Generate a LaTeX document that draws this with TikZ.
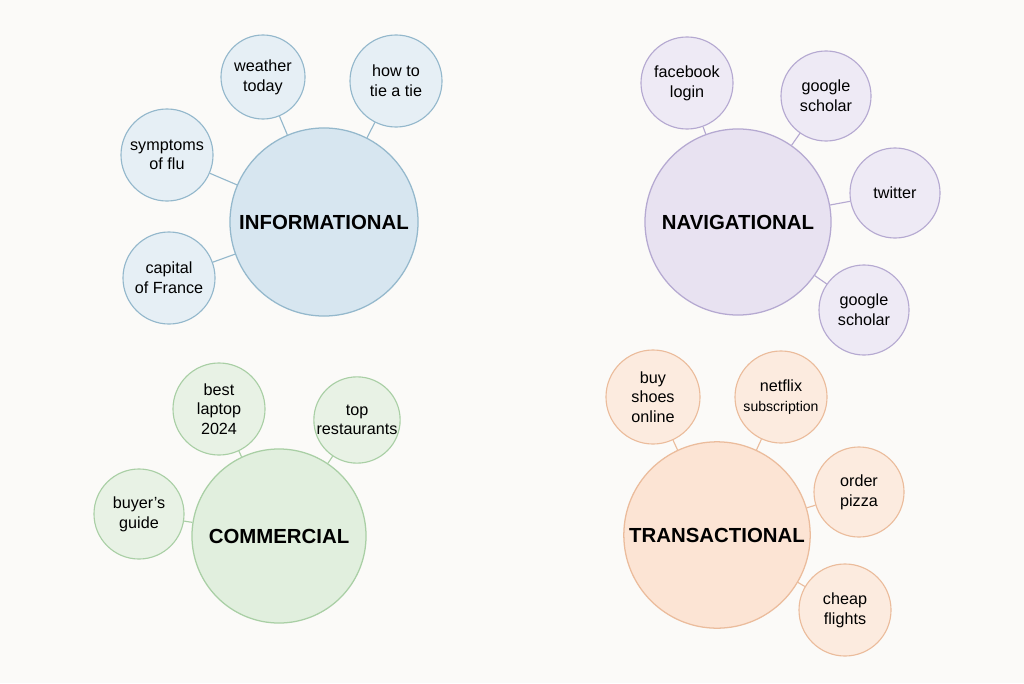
\documentclass[tikz,border=0pt]{standalone}
\usepackage{fontspec}
\setmainfont{Liberation Sans}
\begin{document}
\begin{tikzpicture}[x=0.025cm,y=-0.025cm]
\definecolor{bgc}{HTML}{FBFAF8}
\definecolor{infoF}{HTML}{D7E6F0}\definecolor{infoS}{HTML}{E6EFF5}\definecolor{infoD}{HTML}{94B8CC}
\definecolor{navF}{HTML}{E8E2F1}\definecolor{navS}{HTML}{EEEAF5}\definecolor{navD}{HTML}{B5A9D1}
\definecolor{comF}{HTML}{E1EFDE}\definecolor{comS}{HTML}{E8F2E5}\definecolor{comD}{HTML}{A9CFA5}
\definecolor{traF}{HTML}{FCE4D4}\definecolor{traS}{HTML}{FCEBDF}\definecolor{traD}{HTML}{EBBC9C}
\tikzset{
  hub/.style={circle,draw=#1D,fill=#1F,line width=0.9pt,align=center,font=\fontsize{14.5}{17}\selectfont\bfseries},
  leaf/.style={circle,draw=#1D,fill=#1S,line width=0.8pt,align=center,inner sep=0pt,font=\fontsize{11.5}{14}\selectfont},
  link/.style={draw=#1D,line width=0.8pt}
}
\fill[bgc] (0,0) rectangle (1024,683);
% informational
\node[hub=info,minimum size=4.7cm] (info) at (324,222) {INFORMATIONAL};
\node[leaf=info,minimum size=2.1cm] (weather) at (263,77) {weather\\today};
\node[leaf=info,minimum size=2.3cm] (tie) at (396,81) {how to\\tie a tie};
\node[leaf=info,minimum size=2.3cm] (flu) at (167,155) {symptoms\\of flu};
\node[leaf=info,minimum size=2.3cm] (capital) at (169,278) {capital\\of France};
\foreach \n in {weather,tie,flu,capital} \draw[link=info] (\n) -- (info);
% navigational
\node[hub=nav,minimum size=4.65cm] (nav) at (738,222) {NAVIGATIONAL};
\node[leaf=nav,minimum size=2.3cm] (fb) at (687,83) {facebook\\login};
\node[leaf=nav,minimum size=2.25cm] (gs1) at (826,96) {google\\scholar};
\node[leaf=nav,minimum size=2.25cm] (tw) at (895,193) {twitter};
\node[leaf=nav,minimum size=2.25cm] (gs2) at (864,310) {google\\scholar};
\foreach \n in {fb,gs1,tw,gs2} \draw[link=nav] (\n) -- (nav);
% commercial
\node[hub=com,minimum size=4.35cm] (com) at (279,536) {COMMERCIAL};
\node[leaf=com,minimum size=2.3cm] (laptop) at (219,409) {best\\laptop\\2024};
\node[leaf=com,minimum size=2.1cm] (rest) at (357,420) {top\\restaurants};
\node[leaf=com,minimum size=2.25cm] (guide) at (139,514) {buyer’s\\guide};
\foreach \n in {laptop,rest,guide} \draw[link=com] (\n) -- (com);
% transactional
\node[hub=tra,minimum size=4.6cm] (tra) at (717,535) {TRANSACTIONAL};
\node[leaf=tra,minimum size=2.35cm] (shoes) at (653,397) {buy\\shoes\\online};
\node[leaf=tra,minimum size=2.3cm] (netflix) at (781,397) {netflix\\{\fontsize{10}{12}\selectfont subscription}};
\node[leaf=tra,minimum size=2.25cm] (pizza) at (859,492) {order\\pizza};
\node[leaf=tra,minimum size=2.3cm] (flights) at (845,610) {cheap\\flights};
\foreach \n in {shoes,netflix,pizza,flights} \draw[link=tra] (\n) -- (tra);
\end{tikzpicture}
\end{document}
